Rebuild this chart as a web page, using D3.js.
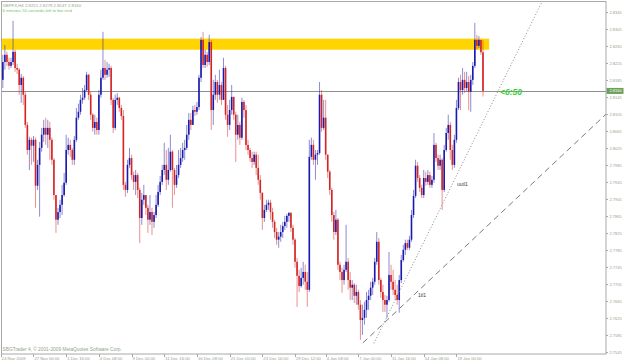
<!DOCTYPE html>
<html>
<head>
<meta charset="utf-8">
<script src="https://cdn.jsdelivr.net/npm/d3@7"></script>
<style>
  body { margin: 0; background: #fff; }
  svg { display: block; }
  text { font-family: "Liberation Sans", Arial, sans-serif; }
</style>
</head>
<body>
<svg id="chart" width="625" height="363"></svg>
<script>
// H4 bars, oldest first. open of each bar = previous close
var firstOpen = 2.8245;
var closes = [
  2.8186,2.8228,2.8245,2.8228,2.8219,2.8228,2.8252,2.8214,2.8210,2.8174,
  2.8191,2.8151,2.8080,2.8021,2.8045,2.8031,2.8045,2.7937,2.7986,2.8026,
  2.8057,2.8073,2.8057,2.8073,2.8045,2.7998,2.7915,2.7857,2.7875,2.7892,
  2.7915,2.7944,2.8021,2.8033,2.8021,2.7998,2.8045,2.8097,2.8111,2.8139,
  2.8144,2.8162,2.8198,2.8151,2.8104,2.8073,2.8087,2.8068,2.8151,2.8191,
  2.8214,2.8198,2.8210,2.8214,2.8139,2.8073,2.8139,2.8144,2.8120,2.8101,
  2.7939,2.7927,2.7986,2.8002,2.7962,2.7946,2.7962,2.7927,2.7861,2.7904,
  2.7915,2.7885,2.7857,2.7875,2.7852,2.7868,2.7892,2.7922,2.7946,2.7974,
  2.7986,2.7951,2.7974,2.8017,2.7974,2.7939,2.7962,2.7986,2.8002,2.8021,
  2.8026,2.8057,2.8092,2.8080,2.8115,2.8111,2.8122,2.8191,2.8280,2.8221,
  2.8245,2.8228,2.8275,2.8115,2.8151,2.8181,2.8151,2.8174,2.8139,2.8214,
  2.8104,2.8080,2.8115,2.8146,2.8104,2.8057,2.8080,2.8050,2.8134,2.8115,
  2.8033,2.8021,2.8002,2.7993,2.8010,2.7979,2.7951,2.7920,2.7861,2.7880,
  2.7892,2.7897,2.7875,2.7852,2.7828,2.7810,2.7817,2.7828,2.7842,2.7852,
  2.7866,2.7873,2.7838,2.7810,2.7758,2.7725,2.7701,2.7720,2.7734,2.7711,
  2.7692,2.8005,2.8033,2.7998,2.8010,2.8014,2.8151,2.8073,2.8097,2.8010,
  2.7970,2.7927,2.7868,2.7828,2.7857,2.7751,2.7734,2.7715,2.7739,2.7758,
  2.7715,2.7697,2.7704,2.7678,2.7687,2.7657,2.7621,2.7626,2.7645,2.7668,
  2.7678,2.7697,2.7711,2.7758,2.7805,2.7715,2.7687,2.7668,2.7657,2.7668,
  2.7727,2.7711,2.7692,2.7680,2.7668,2.7715,2.7762,2.7786,2.7802,2.7791,
  2.7810,2.7868,2.7913,2.7984,2.7955,2.7932,2.7915,2.7955,2.7946,2.7962,
  2.7939,2.7951,2.8033,2.8002,2.7984,2.7998,2.7927,2.8021,2.8061,2.8080,
  2.8021,2.7986,2.8045,2.8120,2.8181,2.8162,2.8186,2.8167,2.8181,2.8158,
  2.8186,2.8219,2.8280,2.8266,2.8280,2.8251,2.8160
];
var highs = [
  2.8257,2.8245,2.8268,2.8252,2.8238,2.8238,2.8325,2.8257,2.8224,2.8214,
  2.8200,2.8195,2.8158,2.8087,2.8052,2.8050,2.8054,2.8050,2.7998,2.8040,
  2.8073,2.8092,2.8097,2.8092,2.8087,2.8050,2.8002,2.7915,2.7885,2.7904,
  2.7939,2.7967,2.8057,2.8050,2.8045,2.8026,2.8054,2.8120,2.8130,2.8151,
  2.8167,2.8174,2.8205,2.8200,2.8158,2.8108,2.8104,2.8097,2.8162,2.8210,
  2.8299,2.8233,2.8228,2.8224,2.8219,2.8144,2.8151,2.8155,2.8146,2.8127,
  2.8115,2.7946,2.7998,2.8026,2.8010,2.7970,2.7974,2.7967,2.7932,2.7920,
  2.7939,2.7913,2.7892,2.7915,2.7885,2.7875,2.7915,2.7939,2.7960,2.7986,
  2.8038,2.8021,2.8026,2.8057,2.8021,2.7979,2.7986,2.8021,2.8026,2.8038,
  2.8045,2.8080,2.8108,2.8108,2.8125,2.8127,2.8134,2.8198,2.8287,2.8299,
  2.8257,2.8252,2.8292,2.8280,2.8186,2.8198,2.8186,2.8210,2.8181,2.8238,
  2.8219,2.8127,2.8139,2.8174,2.8144,2.8111,2.8104,2.8087,2.8144,2.8139,
  2.8127,2.8045,2.8026,2.8017,2.8017,2.8017,2.8010,2.7962,2.7922,2.7892,
  2.7904,2.7904,2.7904,2.7885,2.7857,2.7838,2.7828,2.7845,2.7852,2.7866,
  2.7871,2.7875,2.7875,2.7845,2.7814,2.7767,2.7739,2.7744,2.7758,2.7751,
  2.7734,2.8045,2.8050,2.8045,2.8021,2.8021,2.8181,2.8162,2.8139,2.8139,
  2.8010,2.7974,2.7932,2.7875,2.7880,2.7861,2.7758,2.7744,2.7751,2.7845,
  2.7767,2.7734,2.7715,2.7708,2.7704,2.7692,2.7668,2.7657,2.7664,2.7687,
  2.7692,2.7711,2.7720,2.7767,2.7828,2.7814,2.7720,2.7704,2.7680,2.7678,
  2.7781,2.7751,2.7739,2.7715,2.7704,2.7727,2.7774,2.7798,2.7810,2.7810,
  2.7819,2.7880,2.7927,2.7998,2.7993,2.7962,2.7939,2.7974,2.7970,2.7974,
  2.7970,2.7960,2.8061,2.8038,2.8010,2.8010,2.8002,2.8033,2.8073,2.8104,
  2.8087,2.8033,2.8057,2.8139,2.8191,2.8198,2.8214,2.8205,2.8205,2.8195,
  2.8198,2.8228,2.8320,2.8292,2.8289,2.8280,2.8279
];
var lows = [
  2.8132,2.8167,2.8210,2.8219,2.8210,2.8214,2.8221,2.8205,2.8200,2.8151,
  2.8132,2.8127,2.8073,2.8010,2.7974,2.7986,2.7993,2.7885,2.7927,2.7864,
  2.8017,2.8040,2.8033,2.8026,2.7998,2.7986,2.7904,2.7826,2.7845,2.7861,
  2.7868,2.7911,2.7939,2.8010,2.8005,2.7986,2.7986,2.8040,2.8092,2.8104,
  2.8130,2.8139,2.8158,2.8139,2.8092,2.8064,2.8057,2.8057,2.8057,2.8144,
  2.8186,2.8186,2.8191,2.8193,2.8127,2.8061,2.8068,2.8127,2.8111,2.8092,
  2.7927,2.7911,2.7920,2.7979,2.7951,2.7927,2.7915,2.7908,2.7802,2.7845,
  2.7892,2.7868,2.7826,2.7845,2.7821,2.7838,2.7861,2.7887,2.7915,2.7939,
  2.7962,2.7927,2.7939,2.7970,2.7885,2.7915,2.7932,2.7955,2.7979,2.7993,
  2.7998,2.8021,2.8045,2.8068,2.8080,2.8101,2.8104,2.8115,2.8181,2.8214,
  2.8214,2.8217,2.8221,2.8068,2.8080,2.8139,2.8132,2.8139,2.8127,2.8139,
  2.8092,2.8052,2.8068,2.8104,2.8092,2.7993,2.8045,2.8033,2.8045,2.8097,
  2.8021,2.8010,2.7993,2.7979,2.7986,2.7962,2.7939,2.7904,2.7833,2.7852,
  2.7875,2.7880,2.7857,2.7838,2.7814,2.7798,2.7791,2.7805,2.7814,2.7833,
  2.7838,2.7852,2.7828,2.7798,2.7744,2.7652,2.7687,2.7697,2.7704,2.7692,
  2.7652,2.7687,2.7998,2.7986,2.7951,2.7986,2.8010,2.8064,2.8068,2.7998,
  2.7955,2.7915,2.7852,2.7810,2.7821,2.7739,2.7715,2.7685,2.7704,2.7734,
  2.7692,2.7668,2.7668,2.7661,2.7657,2.7645,2.7574,2.7586,2.7610,2.7626,
  2.7645,2.7668,2.7680,2.7704,2.7751,2.7704,2.7673,2.7640,2.7640,2.7626,
  2.7664,2.7692,2.7680,2.7668,2.7657,2.7638,2.7708,2.7758,2.7774,2.7786,
  2.7786,2.7805,2.7861,2.7908,2.7946,2.7922,2.7908,2.7908,2.7937,2.7939,
  2.7932,2.7932,2.7944,2.7993,2.7974,2.7974,2.7880,2.7922,2.8017,2.8045,
  2.7998,2.7974,2.7979,2.8038,2.8115,2.8115,2.8151,2.8155,2.8158,2.8115,
  2.8111,2.8174,2.8214,2.8257,2.8261,2.8245,2.8147
];

// right price scale
var priceTicks = ["2.8345","2.8305","2.8265","2.8225","2.8185","2.8145","2.8105","2.8065",
  "2.8025","2.7985","2.7945","2.7905","2.7865","2.7825","2.7785","2.7745","2.7705",
  "2.7665","2.7625","2.7585","2.7545"];
// bottom time scale: label text and the bar it sits on
var timeLabels = ["24 Nov 2009","27 Nov 00:00","1 Dec 16:00","4 Dec 08:00","9 Dec 00:00",
  "11 Dec 16:00","16 Dec 08:00","21 Dec 00:00","23 Dec 16:00","29 Dec 12:00",
  "4 Jan 08:00","7 Jan 00:00","11 Jan 16:00","14 Jan 08:00","19 Jan 00:00"];
var timeBars = [0,16,32,48,64,80,96,112,128,144,159,175,191,207,223];

var bidPrice = 2.8160;
var zone = [2.8257, 2.8283];          // yellow rectangle (price range)
var zoneBars = [-1, 239];
// trend lines: [bar, price] pairs, extended to the right
var dashLine = [[177.2, 2.7567], [296.8, 2.8108]];
var dotLine = [[182.6, 2.7566], [260.5, 2.8327]];

var header1 = "GBPFX,H4  2.8251 2.8279 2.8147 2.8160";
var header2 = "6 minutes 50 seconds left to bar end";
var footer = "SBGTrader 4, \u00a9 2001-2009 MetaQuotes Software Corp.";
var timer = "<6:50";

var plot = {left: 1.5, top: 1.5, right: 606, bottom: 354};
var svg = d3.select("#chart");

var bars = closes.map(function(c, i) {
  var o = i === 0 ? firstOpen : closes[i - 1];
  return {i: i, o: o, c: c,
          h: Math.max(highs[i], o, c), l: Math.min(lows[i], o, c)};
});

var x = d3.scaleLinear().domain([0, bars.length - 1]).range([0.8, 483]);
var y = d3.scaleLinear().domain([2.7545, 2.8345]).range([352.3, 12.3]);

svg.append("defs").append("clipPath").attr("id", "pc")
  .append("rect").attr("x", plot.left).attr("y", plot.top)
  .attr("width", plot.right - plot.left).attr("height", plot.bottom - plot.top);

var g = svg.append("g").attr("clip-path", "url(#pc)");

// yellow zone
g.append("rect")
  .attr("x", x(zoneBars[0])).attr("y", y(zone[1]))
  .attr("width", x(zoneBars[1]) - x(zoneBars[0]))
  .attr("height", y(zone[0]) - y(zone[1]))
  .attr("fill", "#ffd400");

// bid line
g.append("line")
  .attr("x1", plot.left).attr("x2", plot.right)
  .attr("y1", Math.round(y(bidPrice)) + 0.5).attr("y2", Math.round(y(bidPrice)) + 0.5)
  .attr("stroke", "#8f8f8f").attr("stroke-width", 1);

// candles
var up = "#1a1aae", dn = "#d42424";
g.selectAll(".wick").data(bars).enter().append("line")
  .attr("x1", function(d) { return x(d.i); })
  .attr("x2", function(d) { return x(d.i); })
  .attr("y1", function(d) { return y(d.h); })
  .attr("y2", function(d) { return y(d.l); })
  .attr("stroke", function(d) { return d.c < d.o ? dn : up; })
  .attr("stroke-opacity", 0.5)
  .attr("stroke-width", 1);

g.selectAll(".body").data(bars).enter().append("rect")
  .attr("x", function(d) { return x(d.i) - 0.8; })
  .attr("width", 1.6)
  .attr("y", function(d) { return y(Math.max(d.o, d.c)); })
  .attr("height", function(d) { return Math.max(1, Math.abs(y(d.o) - y(d.c))); })
  .attr("fill", function(d) { return d.c < d.o ? dn : up; });

// trend lines
function ray(pts) {
  var x1 = x(pts[0][0]), y1 = y(pts[0][1]), x2 = x(pts[1][0]), y2 = y(pts[1][1]);
  var k = 10;
  return [x1, y1, x1 + (x2 - x1) * k, y1 + (y2 - y1) * k];
}
var dl = ray(dashLine);
g.append("line").attr("x1", dl[0]).attr("y1", dl[1]).attr("x2", dl[2]).attr("y2", dl[3])
  .attr("stroke", "#7a7a7a").attr("stroke-width", 1).attr("stroke-dasharray", "6,4");
var tl = ray(dotLine);
g.append("line").attr("x1", tl[0]).attr("y1", tl[1]).attr("x2", tl[2]).attr("y2", tl[3])
  .attr("stroke", "#8a8a8a").attr("stroke-width", 1).attr("stroke-dasharray", "1,2");

// line labels
g.append("text").attr("x", 457).attr("y", 186).attr("font-size", 5)
  .attr("font-family", "Liberation Serif, serif").attr("fill", "#404040").text("uutl1");
g.append("text").attr("x", 418).attr("y", 297).attr("font-size", 5)
  .attr("font-family", "Liberation Serif, serif").attr("fill", "#404040").text("1tl1");

// frame
svg.append("rect")
  .attr("x", plot.left).attr("y", plot.top)
  .attr("width", plot.right - plot.left).attr("height", plot.bottom - plot.top)
  .attr("fill", "none").attr("stroke", "#a8a8a8").attr("stroke-width", 1);

var txt = "#92a48a";

// price axis
var ax = svg.append("g").attr("transform", "translate(" + plot.right + ",0)");
ax.selectAll("line").data(priceTicks).enter().append("line")
  .attr("x1", 0).attr("x2", 2)
  .attr("y1", function(d) { return Math.round(y(+d)) + 0.5; })
  .attr("y2", function(d) { return Math.round(y(+d)) + 0.5; })
  .attr("stroke", "#a8a8a8");
ax.selectAll("text").data(priceTicks).enter().append("text")
  .attr("x", 3.5).attr("y", function(d) { return y(+d) + 1.5; })
  .attr("font-size", 4).attr("fill", txt).text(function(d) { return d; });

// bid label on the scale
var by = y(bidPrice);
ax.append("rect").attr("x", 0.5).attr("y", by - 3).attr("width", 17).attr("height", 6)
  .attr("fill", "#6aa05a");
ax.append("text").attr("x", 3.5).attr("y", by + 1.5).attr("font-size", 4)
  .attr("fill", "#ffffff").text(d3.format(".4f")(bidPrice));

// time axis
var tx = svg.append("g");
tx.selectAll("line").data(timeBars).enter().append("line")
  .attr("x1", function(d) { return Math.round(x(d)) + 0.5; })
  .attr("x2", function(d) { return Math.round(x(d)) + 0.5; })
  .attr("y1", plot.bottom).attr("y2", plot.bottom + 3)
  .attr("stroke", "#a8a8a8");
tx.selectAll("text").data(timeBars).enter().append("text")
  .attr("x", function(d) { return x(d) + 1; })
  .attr("y", 359.5).attr("font-size", 4.2).attr("fill", txt)
  .text(function(d, i) { return timeLabels[i]; });

// header and footer texts
svg.append("text").attr("x", 2.5).attr("y", 6.5).attr("font-size", 4.3).attr("fill", txt).text(header1);
svg.append("text").attr("x", 2.5).attr("y", 11.5).attr("font-size", 4.3).attr("fill", "#7ac06a").text(header2);
svg.append("text").attr("x", 2.5).attr("y", 350.5).attr("font-size", 4.8).attr("fill", txt).text(footer);

// bar timer
svg.append("text").attr("x", 500).attr("y", by + 4.5)
  .attr("font-size", 8.5).attr("font-weight", "bold").attr("font-style", "italic")
  .attr("fill", "#3ccc3c").text(timer);
</script>
</body>
</html>
